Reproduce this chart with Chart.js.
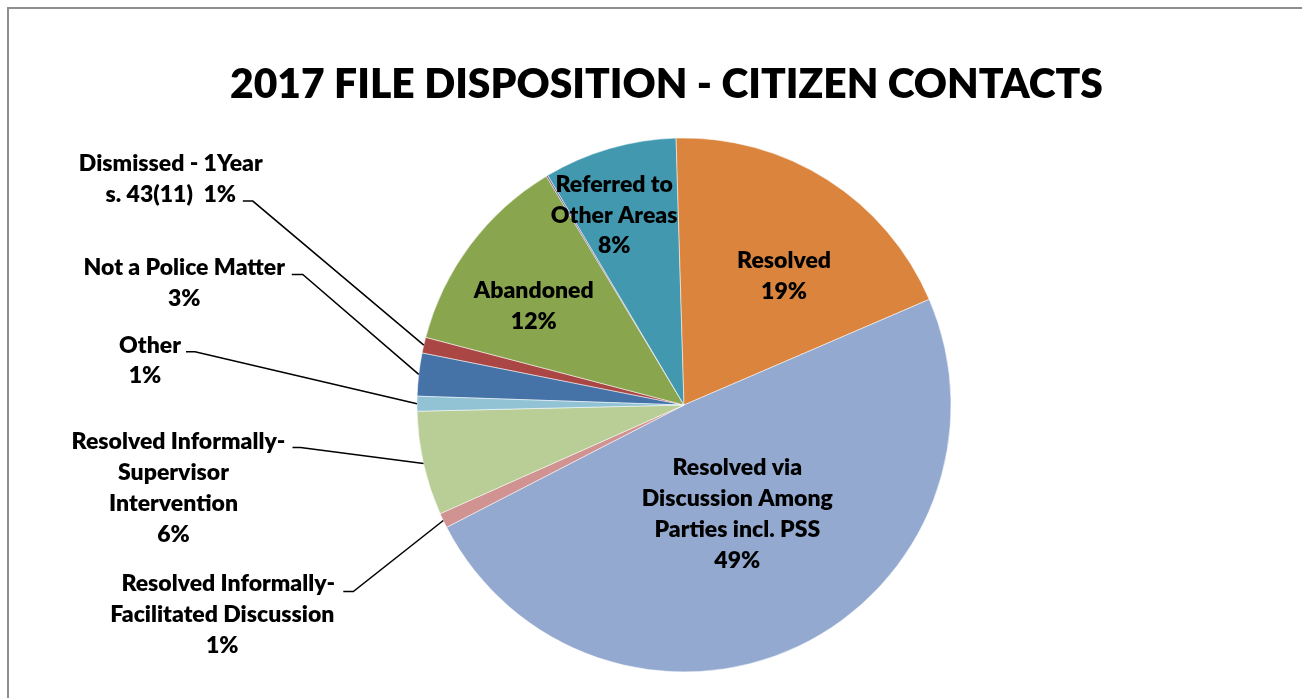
<!DOCTYPE html>
<html><head><meta charset="utf-8">
<script src="https://cdn.jsdelivr.net/npm/chart.js@4.4.1/dist/chart.umd.min.js"></script>
<style>
html,body{margin:0;padding:0;background:#fff;overflow:hidden}
#frame{position:absolute;left:7px;top:7px;width:1400px;height:800px;border:2px solid #8e8e8e;box-sizing:border-box}
#wrap{position:absolute;left:0;top:0;width:1302px;height:698px}
</style></head><body>
<div id="frame"></div>
<div id="wrap"><canvas id="c" width="1302" height="698"></canvas></div>
<script>
// ---------- data ----------
const TITLE = "2017 FILE DISPOSITION - CITIZEN CONTACTS";
const categories = [
  "Not a Police Matter",
  "Dismissed - 1Year s. 43(11)",
  "Abandoned",
  "Unlabelled",
  "Referred to Other Areas",
  "Resolved",
  "Resolved via Discussion Among Parties incl. PSS",
  "Resolved Informally-Facilitated Discussion",
  "Resolved Informally-Supervisor Intervention",
  "Other"
];
const values = [2.6, 0.95, 12.3, 0.1, 8.05, 19.0, 48.9, 0.9, 6.3, 0.9];
const labelLines = [
  ["Not a Police Matter", "{p}"],
  ["Dismissed - 1Year", "s. 43(11)  {p}"],
  ["Abandoned", "{p}"],
  [],
  ["Referred to", "Other Areas", "{p}"],
  ["Resolved", "{p}"],
  ["Resolved via", "Discussion Among", "Parties incl. PSS", "{p}"],
  ["Resolved Informally-", "Facilitated Discussion", "{p}"],
  ["Resolved Informally-", "Supervisor", "Intervention", "{p}"],
  ["Other", "{p}"]
];
const colors = ["#4572A7","#AA4643","#89A54E","#71588F","#4198AF","#DB843D","#93A9CF","#D19392","#B9CD96","#91C3D5"];

// ---------- label layout (styling, not data) ----------
const labelLayout = [
  {out:true, text:[-234.5,-107], elbow:[-116,-100], start:[-127,-100]},
  {out:true, text:[-253,-182], elbow:[-171,-144], start:[-181,-144]},
  {inR:0.67, shift:[-7,8]},
  null,
  {inR:0.75, shift:[-14,2]},
  {inR:0.6, shift:[14,6]},
  {inR:0.45, shift:[2,0]},
  {out:true, text:[-221,63], elbow:[-90,71], start:[-100,71], firstDx:6},
  {out:true, text:[-250,-22], elbow:[-123,-16], start:[-131,-16], firstDx:5},
  {out:true, text:[-272,-59], elbow:[-222,-52], start:[-231,-52], firstDx:5}
];
const FONT_FAMILY = "Lato, 'Open Sans', sans-serif";
const WEIGHT = 800;
const LABEL_SIZE = 23, TITLE_SIZE = 40.8, LINE_H = 30.8;

const labelPlugin = {
  id: 'pieLabels',
  afterDatasetsDraw(chart) {
    const ctx = chart.ctx;
    const meta = chart.getDatasetMeta(0);
    const ds = chart.data.datasets[0].data;
    const total = ds.reduce((a, b) => a + b, 0);
    ctx.save();
    ctx.fillStyle = '#000';
    ctx.textAlign = 'center';
    ctx.textBaseline = 'alphabetic';
    // title
    ctx.font = `${WEIGHT} ${TITLE_SIZE}px ${FONT_FAMILY}`;
    ctx.fillText(TITLE, 666.5, 82.5 + 31.6 / 2);
    ctx.font = `${WEIGHT} ${LABEL_SIZE}px ${FONT_FAMILY}`;
    const capOff = 15.7 / 2;
    meta.data.forEach((arc, i) => {
      const lay = labelLayout[i];
      if (!lay) return;
      const p = arc.getProps(['x','y','startAngle','endAngle','outerRadius'], true);
      const mid = (p.startAngle + p.endAngle) / 2;
      const pct = Math.round(ds[i] / total * 100) + '%';
      const lines = labelLines[i].map(s => s.replace('{p}', pct));
      let cx, cy0;
      if (lay.out) {
        const ex = p.x + p.outerRadius * Math.cos(mid);
        const ey = p.y + p.outerRadius * Math.sin(mid);
        cx = ex + lay.text[0];
        cy0 = ey + lay.text[1];
        ctx.beginPath();
        ctx.strokeStyle = '#000';
        ctx.lineWidth = 1.5;
        ctx.moveTo(ex + lay.start[0], ey + lay.start[1]);
        ctx.lineTo(ex + lay.elbow[0], ey + lay.elbow[1]);
        ctx.lineTo(ex, ey);
        ctx.stroke();
      } else {
        const r = p.outerRadius * lay.inR;
        cx = p.x + r * Math.cos(mid) + lay.shift[0];
        const cyc = p.y + r * Math.sin(mid) + lay.shift[1];
        cy0 = cyc - (lines.length - 1) * LINE_H / 2;
      }
      lines.forEach((t, k) => {
        const dx = (k === 0 && lay.firstDx) ? lay.firstDx : 0;
        ctx.fillText(t, cx + dx, cy0 + k * LINE_H + capOff);
      });
    });
    ctx.restore();
  }
};

new Chart(document.getElementById('c'), {
  type: 'pie',
  data: {
    labels: categories,
    datasets: [{
      data: values,
      backgroundColor: colors,
      borderColor: 'rgba(255,255,255,0.85)',
      borderWidth: 0.6
    }]
  },
  options: {
    responsive: false,
    animation: false,
    rotation: -88.1,
    radius: 267,
    layout: { padding: { left: 66, right: 0, top: 112, bottom: 0 } },
    plugins: { legend: { display: false }, tooltip: { enabled: false }, title: { display: false } }
  },
  plugins: [labelPlugin]
});
</script>
</body></html>
